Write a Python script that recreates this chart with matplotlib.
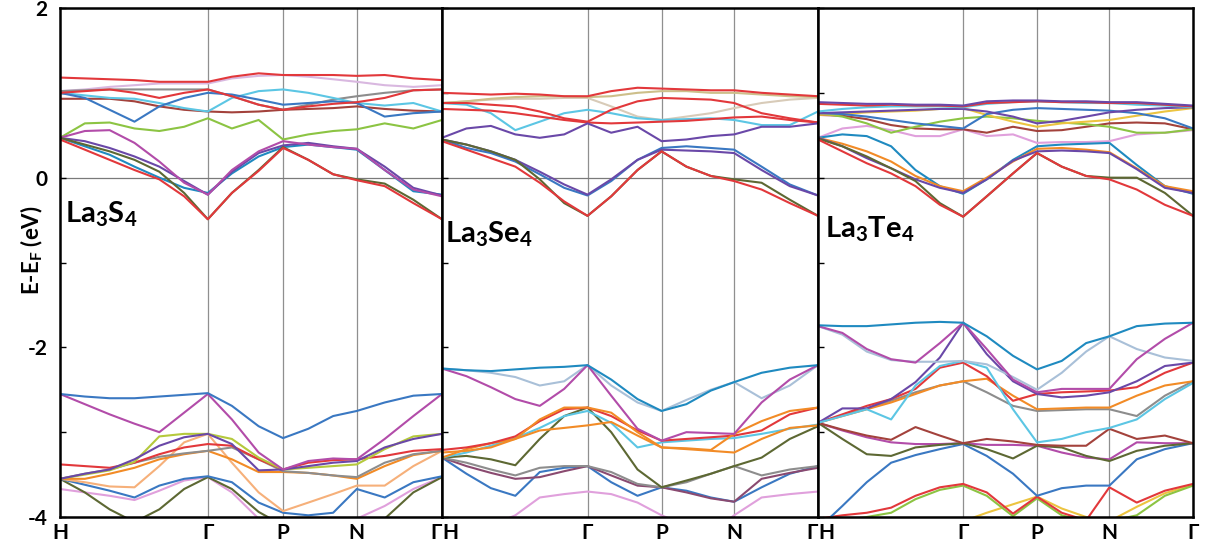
import matplotlib
matplotlib.use("Agg")
import matplotlib.pyplot as plt

plt.rcParams['font.family'] = ['Lato', 'DejaVu Sans']
plt.rcParams['mathtext.fontset'] = 'custom'
plt.rcParams['mathtext.rm'] = 'Lato:bold'
plt.rcParams['mathtext.bf'] = 'Lato:bold'

# k-path sample points (fraction of path) and high-symmetry points
kpts = [0, 0.065, 0.13, 0.195, 0.26, 0.325, 0.387, 0.45, 0.52, 0.584, 0.65, 0.715, 0.777, 0.85, 0.925, 1.0]
sym_pos = [0, 0.387, 0.584, 0.777, 1.0]
sym_labels = ['H', 'Γ', 'P', 'N', 'Γ']
compounds = [r'La$_\mathrm{3}$S$_\mathrm{4}$', r'La$_\mathrm{3}$Se$_\mathrm{4}$', r'La$_\mathrm{3}$Te$_\mathrm{4}$']

# ---- La3S4 (eV) ----
s_red_top = [1.18, 1.17, 1.16, 1.15, 1.13, 1.13, 1.13, 1.19, 1.23, 1.21, 1.21, 1.21, 1.20, 1.21, 1.17, 1.15]
s_pink_top = [1.02, 1.04, 1.07, 1.09, 1.11, 1.11, 1.11, 1.17, 1.20, 1.21, 1.19, 1.16, 1.13, 1.09, 1.07, 1.09]
s_gray_c = [1.02, 1.03, 1.04, 1.04, 1.04, 1.04, 1.04, 0.96, 0.86, 0.80, 0.86, 0.92, 0.96, 1.00, 1.03, 1.04]
s_brown_c = [0.93, 0.93, 0.93, 0.90, 0.84, 0.80, 0.78, 0.77, 0.78, 0.80, 0.81, 0.82, 0.84, 0.81, 0.79, 0.78]
s_red_mid = [1.00, 1.02, 1.04, 1.00, 0.94, 1.00, 1.04, 0.96, 0.86, 0.80, 0.84, 0.87, 0.89, 0.94, 1.03, 1.04]
s_cyan_c = [1.00, 0.97, 0.94, 0.93, 0.88, 0.82, 0.78, 0.94, 1.02, 1.04, 1.00, 0.94, 0.88, 0.85, 0.88, 0.78]
s_blue_c = [1.00, 0.94, 0.80, 0.66, 0.84, 0.94, 1.00, 0.98, 0.92, 0.86, 0.88, 0.90, 0.88, 0.72, 0.76, 0.78]
s_green_c = [0.47, 0.64, 0.65, 0.58, 0.55, 0.60, 0.70, 0.58, 0.68, 0.45, 0.51, 0.55, 0.57, 0.64, 0.58, 0.68]
s_magenta_c = [0.47, 0.55, 0.56, 0.41, 0.19, -0.06, -0.20, 0.09, 0.31, 0.43, 0.39, 0.36, 0.34, 0.09, -0.14, -0.22]
s_purple_c = [0.47, 0.43, 0.35, 0.25, 0.13, -0.04, -0.20, 0.07, 0.29, 0.38, 0.41, 0.37, 0.34, 0.13, -0.12, -0.21]
s_teal_c = [0.47, 0.37, 0.27, 0.13, 0.00, -0.12, -0.18, 0.05, 0.25, 0.36, 0.39, 0.36, 0.33, 0.09, -0.16, -0.20]
s_olive_c = [0.47, 0.39, 0.31, 0.21, 0.07, -0.18, -0.49, -0.18, 0.09, 0.36, 0.21, 0.04, -0.02, -0.07, -0.26, -0.49]
s_red_low = [0.45, 0.33, 0.21, 0.09, -0.02, -0.22, -0.49, -0.18, 0.08, 0.35, 0.21, 0.04, -0.03, -0.10, -0.30, -0.49]

s_blue_v = [-2.55, -2.58, -2.60, -2.60, -2.58, -2.56, -2.54, -2.69, -2.93, -3.07, -2.96, -2.81, -2.75, -2.65, -2.57, -2.55]
s_magenta_v = [-2.55, -2.67, -2.79, -2.90, -3.00, -2.77, -2.55, -2.85, -3.24, -3.44, -3.34, -3.31, -3.32, -3.08, -2.81, -2.55]
s_ygreen_v = [-3.55, -3.50, -3.45, -3.35, -3.05, -3.02, -3.02, -3.08, -3.30, -3.44, -3.42, -3.40, -3.38, -3.20, -3.05, -3.02]
s_purple_v = [-3.55, -3.49, -3.44, -3.32, -3.16, -3.06, -3.02, -3.14, -3.45, -3.44, -3.40, -3.36, -3.34, -3.18, -3.08, -3.02]
s_red_v = [-3.38, -3.40, -3.42, -3.36, -3.26, -3.18, -3.14, -3.16, -3.32, -3.44, -3.36, -3.33, -3.32, -3.28, -3.22, -3.20]
s_gray_v = [-3.55, -3.49, -3.44, -3.36, -3.29, -3.25, -3.22, -3.18, -3.32, -3.46, -3.48, -3.51, -3.53, -3.36, -3.26, -3.22]
s_orange_v = [-3.55, -3.55, -3.49, -3.42, -3.32, -3.26, -3.22, -3.32, -3.47, -3.47, -3.48, -3.51, -3.55, -3.40, -3.27, -3.22]
s_peach_v = [-3.55, -3.59, -3.64, -3.65, -3.40, -3.12, -3.02, -3.36, -3.71, -3.93, -3.83, -3.73, -3.63, -3.63, -3.40, -3.22]
s_blue_low = [-3.55, -3.62, -3.69, -3.77, -3.63, -3.55, -3.52, -3.59, -3.83, -3.95, -3.98, -3.95, -3.67, -3.77, -3.59, -3.52]
s_olive_v = [-3.55, -3.71, -3.91, -4.06, -3.91, -3.67, -3.53, -3.67, -3.94, -4.10, -4.10, -4.10, -4.06, -4.02, -3.71, -3.53]
s_pink_v = [-3.67, -3.71, -3.75, -3.80, -3.69, -3.57, -3.53, -3.71, -4.02, -4.10, -4.10, -4.06, -4.02, -3.87, -3.67, -3.53]

# ---- La3Se4 (eV) ----
se_red_top = [1.00, 0.99, 0.98, 0.99, 0.98, 0.96, 0.96, 1.02, 1.06, 1.05, 1.04, 1.03, 1.03, 1.00, 0.98, 0.96]
se_tan_c = [0.88, 0.90, 0.93, 0.95, 0.96, 0.96, 0.95, 0.96, 1.00, 1.02, 1.02, 1.00, 1.00, 0.98, 0.96, 0.95]
se_beige_c = [0.88, 0.90, 0.92, 0.93, 0.93, 0.94, 0.94, 0.84, 0.72, 0.68, 0.72, 0.76, 0.82, 0.88, 0.92, 0.94]
se_red_mid = [0.81, 0.80, 0.79, 0.76, 0.72, 0.68, 0.65, 0.64, 0.65, 0.66, 0.67, 0.69, 0.71, 0.72, 0.68, 0.65]
se_red2_c = [0.88, 0.88, 0.86, 0.84, 0.78, 0.70, 0.66, 0.80, 0.90, 0.94, 0.93, 0.92, 0.88, 0.76, 0.70, 0.65]
se_cyan_c = [0.88, 0.86, 0.76, 0.56, 0.66, 0.76, 0.80, 0.76, 0.70, 0.68, 0.69, 0.70, 0.68, 0.62, 0.62, 0.78]
se_purple1_c = [0.47, 0.58, 0.61, 0.51, 0.47, 0.51, 0.64, 0.53, 0.60, 0.43, 0.45, 0.49, 0.51, 0.60, 0.60, 0.64]
se_purple2_c = [0.45, 0.39, 0.31, 0.21, 0.07, -0.08, -0.20, -0.02, 0.21, 0.33, 0.32, 0.31, 0.29, 0.09, -0.10, -0.21]
se_blue_c = [0.45, 0.35, 0.29, 0.19, 0.04, -0.12, -0.21, -0.04, 0.21, 0.35, 0.37, 0.35, 0.33, 0.13, -0.08, -0.21]
se_olive_c = [0.45, 0.39, 0.31, 0.21, -0.02, -0.30, -0.45, -0.22, 0.09, 0.31, 0.13, 0.02, -0.02, -0.06, -0.26, -0.45]
se_red_low = [0.43, 0.33, 0.23, 0.13, -0.06, -0.28, -0.45, -0.22, 0.09, 0.31, 0.13, 0.02, -0.04, -0.14, -0.30, -0.45]

se_steel_v = [-2.25, -2.27, -2.30, -2.35, -2.45, -2.40, -2.21, -2.45, -2.65, -2.75, -2.62, -2.50, -2.41, -2.60, -2.45, -2.21]
se_blue_v = [-2.25, -2.27, -2.28, -2.26, -2.24, -2.23, -2.21, -2.38, -2.61, -2.75, -2.67, -2.51, -2.41, -2.30, -2.24, -2.21]
se_magenta_v = [-2.25, -2.34, -2.47, -2.61, -2.69, -2.49, -2.21, -2.57, -2.96, -3.10, -3.00, -3.01, -3.02, -2.65, -2.38, -2.21]
se_orange1_v = [-3.24, -3.22, -3.18, -3.08, -2.85, -2.71, -2.71, -2.77, -3.00, -3.18, -3.19, -3.21, -3.02, -2.87, -2.75, -2.71]
se_orange2_v = [-3.30, -3.20, -3.13, -3.08, -2.98, -2.95, -2.92, -2.88, -3.04, -3.18, -3.20, -3.22, -3.24, -3.08, -2.95, -2.92]
se_red_v = [-3.21, -3.18, -3.13, -3.05, -2.87, -2.73, -2.71, -2.81, -2.98, -3.10, -3.08, -3.06, -3.04, -2.98, -2.79, -2.71]
se_cyan_v = [-3.30, -3.24, -3.16, -3.07, -2.95, -2.81, -2.75, -2.89, -3.18, -3.12, -3.10, -3.08, -3.07, -3.02, -2.96, -2.91]
se_olive_v = [-3.30, -3.28, -3.32, -3.39, -3.08, -2.81, -2.71, -3.00, -3.44, -3.65, -3.57, -3.49, -3.40, -3.30, -3.08, -2.93]
se_gray_v = [-3.30, -3.36, -3.44, -3.51, -3.42, -3.40, -3.40, -3.47, -3.61, -3.65, -3.59, -3.49, -3.40, -3.51, -3.44, -3.40]
se_maroon_v = [-3.30, -3.40, -3.48, -3.55, -3.53, -3.46, -3.40, -3.51, -3.63, -3.65, -3.71, -3.78, -3.82, -3.55, -3.48, -3.42]
se_blue_low = [-3.30, -3.49, -3.66, -3.75, -3.47, -3.42, -3.40, -3.59, -3.75, -3.65, -3.69, -3.77, -3.82, -3.65, -3.49, -3.40]
se_pink_v = [-4.26, -4.18, -4.10, -3.98, -3.77, -3.73, -3.70, -3.73, -3.83, -3.98, -4.10, -4.18, -3.98, -3.77, -3.73, -3.70]

# ---- La3Te4 (eV) ----
te_purple_top = [0.89, 0.88, 0.87, 0.87, 0.86, 0.86, 0.85, 0.90, 0.91, 0.91, 0.90, 0.90, 0.89, 0.89, 0.87, 0.85]
te_red_top = [0.87, 0.86, 0.85, 0.86, 0.85, 0.85, 0.84, 0.88, 0.89, 0.90, 0.89, 0.89, 0.88, 0.88, 0.86, 0.84]
te_cyan_c = [0.78, 0.81, 0.83, 0.84, 0.84, 0.84, 0.83, 0.87, 0.89, 0.90, 0.89, 0.88, 0.88, 0.86, 0.85, 0.83]
te_blue_c = [0.76, 0.75, 0.72, 0.68, 0.64, 0.61, 0.58, 0.75, 0.80, 0.82, 0.81, 0.80, 0.79, 0.76, 0.70, 0.58]
te_yellow_c = [0.74, 0.75, 0.77, 0.78, 0.79, 0.81, 0.82, 0.74, 0.66, 0.60, 0.64, 0.66, 0.68, 0.73, 0.78, 0.82]
te_green_c = [0.76, 0.72, 0.64, 0.53, 0.60, 0.66, 0.70, 0.72, 0.70, 0.67, 0.65, 0.63, 0.60, 0.53, 0.53, 0.57]
te_brown_c = [0.74, 0.73, 0.69, 0.62, 0.58, 0.57, 0.57, 0.53, 0.60, 0.55, 0.56, 0.60, 0.64, 0.65, 0.64, 0.57]
te_purple2_c = [0.76, 0.77, 0.78, 0.79, 0.80, 0.81, 0.81, 0.78, 0.72, 0.64, 0.67, 0.72, 0.77, 0.80, 0.82, 0.83]
te_pink_c = [0.47, 0.58, 0.61, 0.56, 0.49, 0.49, 0.57, 0.49, 0.51, 0.41, 0.42, 0.42, 0.43, 0.51, 0.53, 0.56]
te_teal_c = [0.47, 0.51, 0.49, 0.37, 0.09, -0.10, -0.19, -0.02, 0.21, 0.37, 0.39, 0.40, 0.41, 0.15, -0.10, -0.19]
te_orange_c = [0.47, 0.40, 0.31, 0.19, 0.02, -0.10, -0.16, 0.00, 0.19, 0.34, 0.35, 0.33, 0.30, 0.11, -0.10, -0.16]
te_purple_low = [0.47, 0.37, 0.23, 0.11, -0.02, -0.12, -0.18, -0.02, 0.20, 0.31, 0.32, 0.31, 0.29, 0.10, -0.12, -0.18]
te_olive_c = [0.46, 0.37, 0.25, 0.11, -0.04, -0.30, -0.46, -0.22, 0.05, 0.29, 0.13, 0.02, 0.00, 0.00, -0.18, -0.45]
te_red_low = [0.45, 0.31, 0.17, 0.05, -0.10, -0.32, -0.46, -0.22, 0.05, 0.29, 0.13, 0.02, -0.02, -0.14, -0.32, -0.45]

te_steel_v = [-1.75, -1.85, -2.05, -2.15, -2.17, -2.17, -2.16, -2.20, -2.35, -2.50, -2.30, -2.05, -1.87, -2.02, -2.12, -2.16]
te_blue_v = [-1.74, -1.75, -1.75, -1.73, -1.71, -1.70, -1.71, -1.87, -2.10, -2.26, -2.16, -1.95, -1.87, -1.75, -1.72, -1.71]
te_magenta_v = [-1.75, -1.83, -2.02, -2.14, -2.18, -1.95, -1.71, -2.02, -2.38, -2.53, -2.49, -2.49, -2.49, -2.14, -1.90, -1.71]
te_cyan_v = [-2.89, -2.81, -2.73, -2.85, -2.45, -2.22, -2.16, -2.24, -2.73, -3.12, -3.08, -3.00, -2.95, -2.85, -2.61, -2.42]
te_purple_v = [-2.89, -2.72, -2.72, -2.61, -2.41, -2.12, -1.71, -2.08, -2.40, -2.55, -2.59, -2.57, -2.53, -2.40, -2.22, -2.18]
te_red_v = [-2.89, -2.79, -2.69, -2.61, -2.49, -2.24, -2.18, -2.34, -2.63, -2.55, -2.53, -2.52, -2.51, -2.47, -2.30, -2.18]
te_gray_v = [-2.89, -2.80, -2.72, -2.63, -2.53, -2.45, -2.40, -2.53, -2.69, -2.75, -2.74, -2.73, -2.73, -2.81, -2.57, -2.40]
te_orange_v = [-2.89, -2.81, -2.73, -2.65, -2.55, -2.45, -2.40, -2.37, -2.57, -2.73, -2.72, -2.71, -2.71, -2.57, -2.45, -2.40]
te_brown_v = [-2.89, -2.97, -3.04, -3.09, -2.94, -3.04, -3.13, -3.08, -3.11, -3.15, -3.16, -3.16, -2.96, -3.08, -3.04, -3.13]
te_olive_v = [-2.89, -3.08, -3.26, -3.28, -3.18, -3.15, -3.13, -3.20, -3.31, -3.16, -3.18, -3.28, -3.34, -3.22, -3.16, -3.13]
te_pink_v = [-2.89, -2.98, -3.06, -3.12, -3.14, -3.14, -3.13, -3.15, -3.15, -3.16, -3.24, -3.30, -3.32, -3.12, -3.13, -3.13]
te_blue_low = [-4.14, -3.87, -3.59, -3.36, -3.27, -3.20, -3.14, -3.28, -3.49, -3.75, -3.66, -3.63, -3.63, -3.32, -3.20, -3.13]
te_yellow_bot = [-4.20, -4.20, -4.20, -4.20, -4.15, -4.10, -4.05, -3.95, -3.85, -3.76, -3.90, -4.00, -4.05, -3.88, -3.72, -3.62]
te_green_bot = [-4.06, -4.04, -4.00, -3.95, -3.79, -3.68, -3.63, -3.75, -3.99, -3.78, -3.98, -4.05, -4.05, -3.98, -3.75, -3.63]
te_red_bot = [-4.02, -3.98, -3.95, -3.89, -3.75, -3.65, -3.61, -3.71, -3.96, -3.76, -3.95, -4.04, -3.65, -3.83, -3.69, -3.61]

C = {
    'red': '#e2383b', 'olive': '#5d6833', 'teal': '#1f8ac0', 'blue': '#3a78c2',
    'purple': '#6a48a8', 'magenta': '#b24ca9', 'green': '#8cc443', 'cyan': '#5cc6e4',
    'orange': '#f28b26', 'peach': '#f6b07a', 'gray': '#8d8d8d', 'brown': '#a3423c',
    'pink': '#e0a0dc', 'steel': '#a9c0d8', 'yellow': '#ecc440', 'tan': '#cdbf8a',
    'beige': '#d8cbb8', 'maroon': '#8a4a70', 'ygreen': '#b5c93c', 'lav': '#d9b8e0',
}

panels = [
    [(s_pink_v, 'pink'), (s_olive_v, 'olive'), (s_blue_low, 'blue'), (s_peach_v, 'peach'),
     (s_orange_v, 'orange'), (s_gray_v, 'gray'), (s_red_v, 'red'), (s_ygreen_v, 'ygreen'),
     (s_purple_v, 'purple'), (s_magenta_v, 'magenta'), (s_blue_v, 'blue'),
     (s_pink_top, 'lav'), (s_gray_c, 'gray'), (s_brown_c, 'brown'), (s_cyan_c, 'cyan'),
     (s_blue_c, 'blue'), (s_red_mid, 'red'), (s_green_c, 'green'), (s_teal_c, 'teal'),
     (s_purple_c, 'purple'), (s_magenta_c, 'magenta'), (s_olive_c, 'olive'),
     (s_red_low, 'red'), (s_red_top, 'red')],
    [(se_pink_v, 'pink'), (se_blue_low, 'blue'), (se_maroon_v, 'maroon'), (se_gray_v, 'gray'),
     (se_olive_v, 'olive'), (se_cyan_v, 'cyan'), (se_orange2_v, 'orange'), (se_red_v, 'red'),
     (se_orange1_v, 'orange'), (se_steel_v, 'steel'), (se_magenta_v, 'magenta'), (se_blue_v, 'teal'),
     (se_beige_c, 'beige'), (se_tan_c, 'tan'), (se_cyan_c, 'cyan'), (se_red2_c, 'red'),
     (se_red_mid, 'red'), (se_purple1_c, 'purple'), (se_blue_c, 'blue'), (se_purple2_c, 'purple'),
     (se_olive_c, 'olive'), (se_red_low, 'red'), (se_red_top, 'red')],
    [(te_yellow_bot, 'yellow'), (te_green_bot, 'green'), (te_red_bot, 'red'), (te_blue_low, 'blue'),
     (te_pink_v, 'magenta'), (te_olive_v, 'olive'), (te_brown_v, 'brown'), (te_gray_v, 'gray'),
     (te_orange_v, 'orange'), (te_red_v, 'red'), (te_purple_v, 'purple'), (te_cyan_v, 'cyan'),
     (te_steel_v, 'steel'), (te_magenta_v, 'magenta'), (te_blue_v, 'teal'),
     (te_pink_c, 'pink'), (te_brown_c, 'brown'), (te_green_c, 'green'), (te_yellow_c, 'yellow'),
     (te_blue_c, 'blue'), (te_purple2_c, 'purple'), (te_cyan_c, 'cyan'),
     (te_teal_c, 'teal'), (te_orange_c, 'orange'), (te_purple_low, 'purple'),
     (te_olive_c, 'olive'), (te_red_low, 'red'), (te_red_top, 'red'), (te_purple_top, 'purple')],
]

fig = plt.figure(figsize=(12.08, 5.51), dpi=100)
rects = [(60, 442), (442, 818), (818, 1193)]
label_pos = [(0.012, -0.53), (0.008, -0.76), (0.018, -0.70)]

for i, (bands, (x0, x1)) in enumerate(zip(panels, rects)):
    ax = fig.add_axes([x0 / 1208, 1 - 517 / 551, (x1 - x0) / 1208, 509 / 551])
    for vals, cname in bands:
        ax.plot(kpts, vals, color=C[cname], lw=1.5, solid_joinstyle='round', zorder=2)
    for x in sym_pos[1:-1]:
        ax.axvline(x, color='#8f8f8f', lw=0.9, zorder=1)
    ax.axhline(0, color='#7a7a7a', lw=0.9, zorder=1)
    ax.set_xlim(0, 1)
    ax.set_ylim(-4, 2)
    for sp in ax.spines.values():
        sp.set_linewidth(1.8)
        sp.set_color('black')
    ax.set_xticks(sym_pos)
    ax.set_xticklabels(sym_labels, fontsize=15, fontweight='bold')
    ax.tick_params(axis='x', length=0, pad=4)
    tl = ax.get_xticklabels()
    if i > 0:
        tl[0].set_ha('left')
    if i < 2:
        tl[-1].set_ha('right')
    ax.set_yticks([-4, -2, 0, 2])
    ax.set_yticks([-3, -1, 1], minor=True)
    ax.tick_params(axis='y', which='both', direction='in', length=4, width=1)
    if i == 0:
        ax.set_yticklabels(['-4', '-2', '0', '2'], fontsize=15, fontweight='bold')
        ax.tick_params(axis='y', pad=9)
    else:
        ax.set_yticklabels([])
    lx, ly = label_pos[i]
    ax.text(lx, ly, compounds[i], fontsize=21, fontweight='bold', va='baseline', ha='left')

fig.text(0.026, 0.546, r'E-E$_\mathrm{F}$ (eV)', rotation=90, fontsize=16,
         fontweight='bold', ha='center', va='center')

fig.savefig('out.png', dpi=100)
